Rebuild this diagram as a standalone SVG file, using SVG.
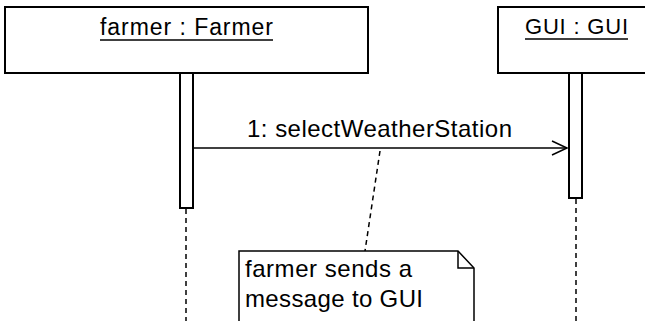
<svg xmlns="http://www.w3.org/2000/svg" width="645" height="321" viewBox="0 0 645 321">
<style>
.box{fill:#fff;stroke:#000;stroke-width:2}
.act{fill:#fff;stroke:#000;stroke-width:2}
.life{stroke:#000;stroke-width:1.5;stroke-dasharray:5 4;fill:none}
.msg{stroke:#000;stroke-width:1.5;fill:none}
.t{font-family:"Liberation Sans",Arial,sans-serif;fill:#000}
</style>
<rect width="645" height="321" fill="#fff"/>
<g id="connectors">
<line class="life" x1="186" y1="209" x2="186" y2="321"/>
<line class="life" x1="576" y1="199" x2="576" y2="321"/>
<line class="msg" x1="193" y1="148" x2="567" y2="148"/>
<polyline class="msg" points="552,141 567,148 552,155"/>
<text class="t" x="247" y="137" font-size="24" textLength="265" lengthAdjust="spacing">1: selectWeatherStation</text>
<line class="life" x1="380" y1="151" x2="365" y2="251"/>
</g>
<g id="farmer">
<rect class="box" x="5" y="7" width="363" height="66"/>
<text class="t" x="100" y="35" font-size="23" textLength="173" lengthAdjust="spacing">farmer : Farmer</text>
<line x1="100" y1="40" x2="273" y2="40" stroke="#000" stroke-width="1.5"/>
<rect class="act" x="180" y="73" width="13" height="135"/>
</g>
<g id="gui">
<rect class="box" x="498" y="7" width="160" height="66"/>
<text class="t" x="525" y="34" font-size="22" textLength="103" lengthAdjust="spacing">GUI : GUI</text>
<line x1="525" y1="39" x2="628" y2="39" stroke="#000" stroke-width="1.5"/>
<rect class="act" x="569" y="73" width="13" height="125"/>
</g>
<g id="note">
<path d="M239,330 L239,251 L458,251 L474,268 L474,330" fill="#fff" stroke="#000" stroke-width="1.5"/>
<path d="M458,251 L458,268 L474,268" fill="none" stroke="#000" stroke-width="1.5"/>
<text class="t" x="245" y="277" font-size="24" textLength="167" lengthAdjust="spacing">farmer sends a</text>
<text class="t" x="245" y="307" font-size="24" textLength="178" lengthAdjust="spacing">message to GUI</text>
</g>
</svg>
